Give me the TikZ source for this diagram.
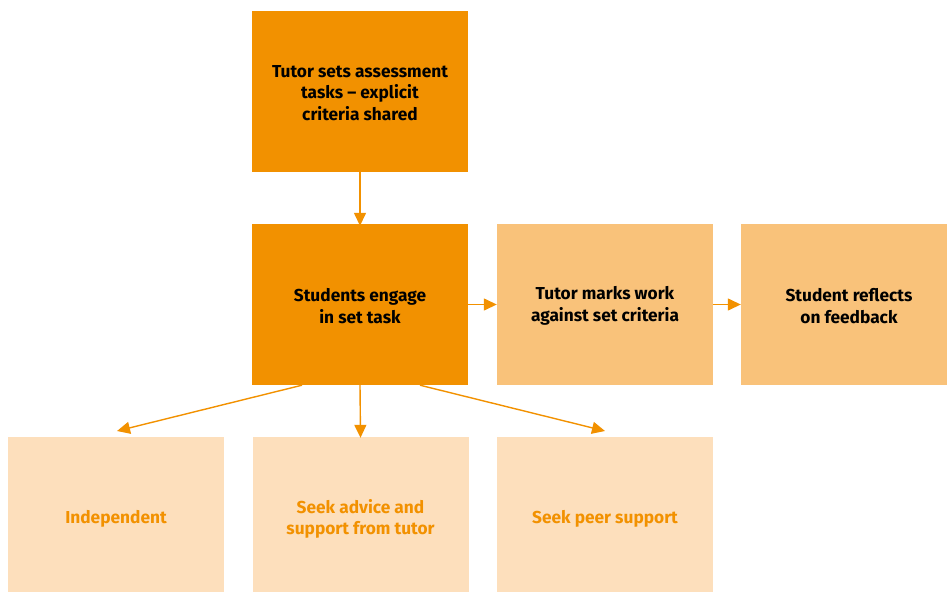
\documentclass[tikz,border=0pt]{standalone}
\usepackage{fontspec}
\setmainfont{Fira Sans}
\usetikzlibrary{arrows.meta}
\definecolor{dk}{HTML}{F29100}
\definecolor{md}{HTML}{F9C27A}
\definecolor{lt}{HTML}{FDDFBC}
\tikzset{
  box/.style={draw=none, minimum width=216pt, minimum height=161pt, inner sep=0pt},
  txt/.style={align=center, font=\fontsize{17.3}{21.5}\selectfont\bfseries, text=black, inner sep=0pt},
  dbox/.style={box, fill=dk},
  mbox/.style={box, fill=md},
  lbox/.style={box, fill=lt, minimum height=155pt},
  ltxt/.style={txt, text=dk},
  arr/.style={draw=dk, line width=1.4pt, -{Triangle[width=12pt,length=13pt]}}
}
\begin{document}
\begin{tikzpicture}[x=1pt,y=-1pt]
\useasboundingbox (0,0) rectangle (947,592);
\node[dbox] (a) at (360,91.5) {};
\node[txt] (at) at (360,93) {Tutor sets assessment\\tasks -- explicit\\criteria shared};
\node[dbox] (b) at (360,304.5) {};
\node[txt] (bt) at (360,306) {Students engage\\in set task};
\node[mbox] (c) at (605,304.5) {};
\node[txt] (ct) at (605,306) {Tutor marks work\\against set criteria};
\node[mbox, minimum width=206pt] (d) at (844,304.5) {};
\node[txt] (dt) at (849,306) {Student reflects\\on feedback};
\node[lbox] (e) at (116,514.5) {};
\node[ltxt] (et) at (116,519) {Independent};
\node[lbox] (f) at (360.5,514.5) {};
\node[ltxt] (ft) at (360.5,519) {Seek advice and\\support from tutor};
\node[lbox] (g) at (605,514.5) {};
\node[ltxt] (gt) at (605,519) {Seek peer support};
\coordinate (e1) at (117,431);
\coordinate (g1) at (605,431);
\draw[arr] (a.south) -- ([yshift=-2pt]b.north);
\draw[arr] (b.east) -- (c.west);
\draw[arr] (c.east) -- (d.west);
\draw[arr] ([xshift=-58pt]b.south) -- (e1);
\draw[arr] (b.south) -- ([yshift=-1pt]f.north);
\draw[arr] ([xshift=60pt]b.south) -- (g1);
\end{tikzpicture}
\end{document}
